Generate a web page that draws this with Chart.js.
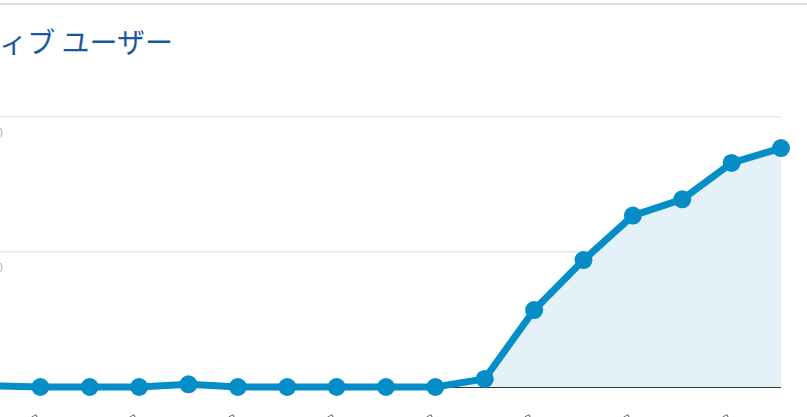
<!DOCTYPE html>
<html>
<head>
<meta charset="utf-8">
<script src="https://cdn.jsdelivr.net/npm/chart.js@4/dist/chart.umd.min.js"></script>
<style>
  html, body { margin: 0; padding: 0; width: 807px; height: 417px; overflow: hidden; background: #fff; position: relative; }
  #topline { position: absolute; left: 0; top: 3px; width: 807px; height: 2px; background: #dcdcdc; }
  #title { position: absolute; right: 634px; top: 27px; line-height: 28px; font-size: 28px; white-space: nowrap;
           font-family: "Noto Sans CJK JP", "Noto Sans", sans-serif; color: #17599a; }
  #wrap { position: absolute; left: -18px; top: 0; width: 825px; height: 450px; }
</style>
</head>
<body>
<div id="topline"></div>
<div id="title">アクティブ ユーザー</div>
<div id="wrap"><canvas id="c" width="825" height="450"></canvas></div>
<script>
// ---- data ----
const dates = ['3月1日','3月2日','3月3日','3月4日','3月5日','3月6日','3月7日','3月8日','3月9日',
               '3月10日','3月11日','3月12日','3月13日','3月14日','3月15日','3月16日','3月17日'];
const users = [1, 0, 0, 0, 2, 0, 0, 0, 0, 0, 6, 57, 94, 127, 139, 166, 177];
const yTickValues = [0, 100, 200];
const yTickLabels = ['', '100', '200'];

const blue = '#058dc7';

new Chart(document.getElementById('c'), {
  type: 'line',
  data: {
    labels: dates,
    datasets: [{
      data: users,
      borderColor: blue,
      borderWidth: 7,
      backgroundColor: '#e4f1f8',
      fill: 'origin',
      tension: 0,
      pointRadius: 9,
      pointBorderWidth: 0,
      pointBackgroundColor: blue,
      pointHoverRadius: 9,
      clip: false
    }]
  },
  options: {
    responsive: false,
    animation: false,
    devicePixelRatio: 1,
    layout: { padding: { left: 0, right: 26, top: 117, bottom: 0 } },
    plugins: { legend: { display: false }, tooltip: { enabled: false }, title: { display: false } },
    scales: {
      x: {
        grid: { display: false, drawTicks: false },
        border: { display: false },
        ticks: {
          autoSkip: false,
          maxRotation: 30,
          minRotation: 30,
          padding: 25,
          color: '#444',
          font: { family: 'Liberation Sans, Arial, sans-serif', size: 12 },
          callback: function(v, i) { return i % 2 === 1 ? dates[i] : ''; }
        },
        afterFit: function(s) { s.height = 63; s.paddingLeft = 0; s.paddingRight = 0; }
      },
      y: {
        min: 0,
        max: 200,
        afterBuildTicks: function(s) { s.ticks = yTickValues.map(v => ({ value: v })); },
        grid: {
          drawTicks: false,
          color: ctx => ctx.tick && ctx.tick.value === 0 ? '#333' : '#e6e6e6',
          lineWidth: ctx => ctx.tick && ctx.tick.value === 0 ? 2 : 1.5
        },
        border: { display: false },
        ticks: {
          mirror: true,
          padding: -8,
          labelOffset: 17,
          color: '#aaa',
          font: { family: 'Liberation Sans, Arial, sans-serif', size: 12 },
          callback: function(v) { const k = yTickValues.indexOf(v); return k >= 0 ? yTickLabels[k] : ''; }
        },
        afterFit: function(s) { s.width = 0; s.paddingTop = 0; s.paddingBottom = 0; }
      }
    }
  }
});
</script>
</body>
</html>
